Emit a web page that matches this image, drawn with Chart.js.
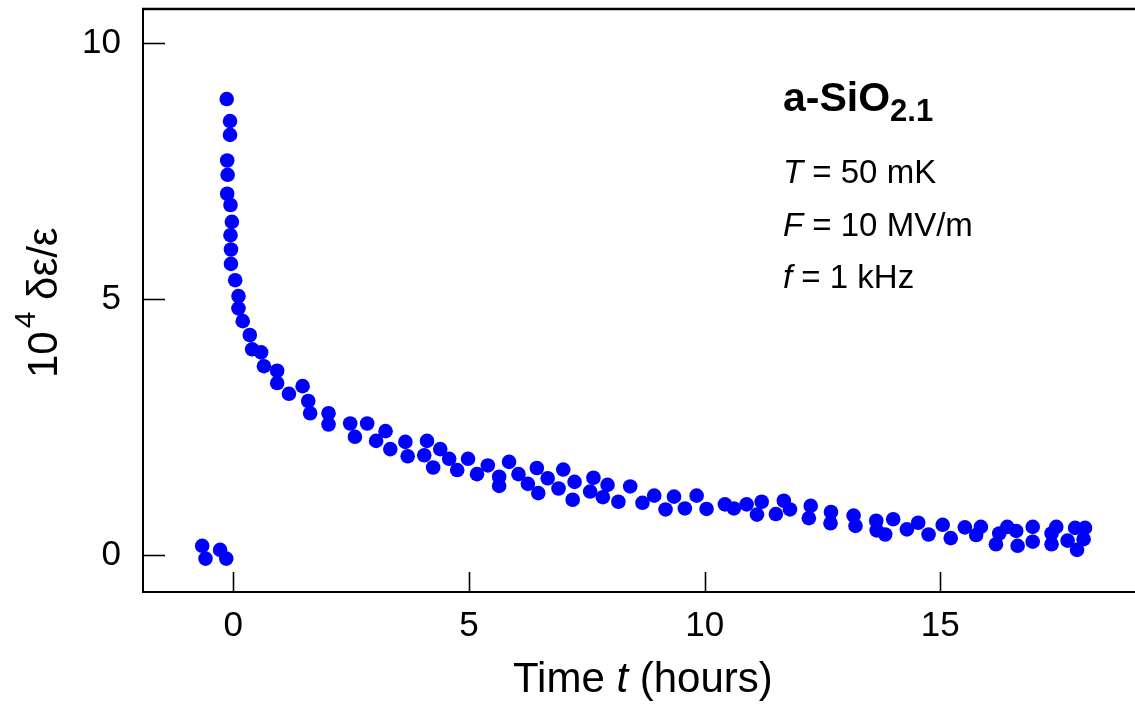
<!DOCTYPE html>
<html>
<head>
<meta charset="utf-8">
<script src="https://cdn.jsdelivr.net/npm/chart.js@4.4.1/dist/chart.umd.min.js"></script>
<style>
  html, body { margin: 0; padding: 0; background: #fff; }
  #wrap { width: 1135px; height: 704px; }
</style>
</head>
<body>
<div id="wrap"><canvas id="chart" width="1135" height="704"></canvas></div>
<script>
// relaxation of the dielectric constant after the bias field is switched on
const timeHours = [
  -0.66, -0.59, -0.28, -0.15,
  -0.14, -0.07, -0.07, -0.13, -0.12, -0.13, -0.06, -0.03, -0.06, -0.05, -0.05,
  0.04, 0.11, 0.11, 0.20, 0.35, 0.40, 0.59, 0.65, 0.93, 0.93, 1.18, 1.47, 1.59, 1.63,
  2.02, 2.02, 2.48, 2.58, 2.84, 3.03, 3.23, 3.33, 3.65, 3.70, 4.05, 4.11, 4.24, 4.39,
  4.58, 4.75, 4.98, 5.17, 5.40, 5.64, 5.64, 5.85, 6.05, 6.25, 6.44, 6.47, 6.67, 6.90,
  7.00, 7.20, 7.24, 7.57, 7.64, 7.84, 7.94, 8.17, 8.42, 8.68, 8.93, 9.17, 9.35, 9.58,
  9.83, 10.04, 10.43, 10.62, 10.89, 11.11, 11.21, 11.51, 11.68, 11.81, 12.21, 12.25,
  12.67, 12.68, 13.16, 13.20, 13.64, 13.65, 13.83, 14.00, 14.29, 14.53, 14.75, 15.05,
  15.22, 15.52, 15.76, 15.86, 16.18, 16.25, 16.42, 16.61, 16.64, 16.96, 16.96, 17.36,
  17.36, 17.46, 17.70, 17.86, 17.90, 18.04, 18.07
];
const deltaEps = [
  0.18, -0.07, 0.10, -0.07,
  8.91, 8.48, 8.21, 7.71, 7.43, 7.06, 6.84, 6.51, 6.25, 5.97, 5.69,
  5.37, 5.06, 4.82, 4.57, 4.30, 4.02, 3.96, 3.69, 3.60, 3.36, 3.15, 3.30, 3.01, 2.77,
  2.77, 2.55, 2.57, 2.31, 2.57, 2.23, 2.42, 2.07, 2.21, 1.93, 1.95, 2.23, 1.71, 2.07,
  1.88, 1.66, 1.88, 1.58, 1.75, 1.53, 1.35, 1.82, 1.58, 1.39, 1.70, 1.21, 1.50, 1.30,
  1.67, 1.08, 1.43, 1.24, 1.51, 1.13, 1.37, 1.04, 1.34, 1.02, 1.16, 0.89, 1.14, 0.91,
  1.16, 0.90, 0.99, 0.91, 0.99, 0.79, 1.04, 0.80, 1.06, 0.89, 0.72, 0.96,
  0.62, 0.84, 0.77, 0.57, 0.67, 0.48, 0.40, 0.70, 0.50, 0.63, 0.40, 0.59,
  0.33, 0.54, 0.39, 0.55, 0.21, 0.42, 0.55, 0.47, 0.18, 0.55, 0.26, 0.42,
  0.21, 0.55, 0.28, 0.53, 0.10, 0.31, 0.53
];
const xTicks = [0, 5, 10, 15];
const yTicks = [0, 5, 10];
const sampleName = 'a-SiO';
const sampleSub = '2.1';
const conditions = [
  ['T', ' = 50 mK'],
  ['F', ' = 10 MV/m'],
  ['f', ' = 1 kHz']
];

const FONT = "'Liberation Sans', Arial, Helvetica, sans-serif";

const points = timeHours.map((t, i) => ({ x: t, y: deltaEps[i] }));

// inward tick marks, top frame line and all the free text
const decorations = {
  id: 'decorations',
  afterDraw(chart) {
    const ctx = chart.ctx;
    const area = chart.chartArea;
    const xs = chart.scales.x;
    const ys = chart.scales.y;
    ctx.save();
    ctx.strokeStyle = '#000';
    ctx.lineWidth = 2.4;
    ctx.beginPath();
    ctx.moveTo(area.left - 1, area.top);
    ctx.lineTo(area.right, area.top);
    ctx.stroke();

    ctx.lineWidth = 1.6;
    xs.ticks.forEach(tk => {
      const px = Math.round(xs.getPixelForValue(tk.value)) + 0.5;
      ctx.beginPath();
      ctx.moveTo(px, area.bottom);
      ctx.lineTo(px, area.bottom - 20);
      ctx.stroke();
    });
    ys.ticks.forEach(tk => {
      const py = Math.round(ys.getPixelForValue(tk.value)) + 0.5;
      ctx.beginPath();
      ctx.moveTo(area.left, py);
      ctx.lineTo(area.left + 22, py);
      ctx.stroke();
    });

    ctx.fillStyle = '#000';
    ctx.textBaseline = 'alphabetic';
    ctx.textAlign = 'left';

    // x axis title
    let x = 513;
    const yb = 692;
    ctx.font = `42px ${FONT}`;
    ctx.fillText('Time ', x, yb);
    x += ctx.measureText('Time ').width;
    ctx.font = `italic 42px ${FONT}`;
    ctx.fillText('t', x, yb);
    x += ctx.measureText('t').width;
    ctx.font = `42px ${FONT}`;
    ctx.fillText(' (hours)', x, yb);

    // y axis title, rotated
    ctx.save();
    ctx.translate(57, 378);
    ctx.rotate(-Math.PI / 2);
    let u = 0;
    ctx.font = `42px ${FONT}`;
    ctx.fillText('10', u, 0);
    u += ctx.measureText('10').width + 3;
    ctx.font = `30px ${FONT}`;
    ctx.fillText('4', u, -22);
    u += ctx.measureText('4').width;
    ctx.font = `42px ${FONT}`;
    ctx.fillText(' \u03B4\u03B5/\u03B5', u, 0);
    ctx.restore();

    // sample label
    let sx = 783;
    ctx.font = `bold 41px ${FONT}`;
    ctx.fillText(sampleName, sx, 111);
    sx += ctx.measureText(sampleName).width;
    ctx.font = `bold 31px ${FONT}`;
    ctx.fillText(sampleSub, sx, 121);

    // measurement conditions
    conditions.forEach((c, i) => {
      const by = 183 + i * 52.5;
      let cx = 783;
      ctx.font = `italic 33px ${FONT}`;
      ctx.fillText(c[0], cx, by);
      cx += ctx.measureText(c[0]).width;
      ctx.font = `33px ${FONT}`;
      ctx.fillText(c[1], cx, by);
    });
    ctx.restore();
  }
};

new Chart(document.getElementById('chart'), {
  type: 'scatter',
  data: {
    datasets: [{
      data: points,
      backgroundColor: '#0000ff',
      borderWidth: 0,
      pointRadius: 7.3,
      pointHoverRadius: 7.3
    }]
  },
  options: {
    responsive: false,
    animation: false,
    devicePixelRatio: 1,
    layout: { autoPadding: false, padding: { top: 9, right: 0, left: 0, bottom: 0 } },
    plugins: {
      legend: { display: false },
      tooltip: { enabled: false }
    },
    scales: {
      x: {
        type: 'linear',
        min: -1.916,
        max: 19.13,
        afterBuildTicks: s => { s.ticks = xTicks.map(v => ({ value: v })); },
        afterFit: s => { s.height = 112; s.paddingLeft = 0; s.paddingRight = 0; },
        grid: { display: false, drawTicks: false },
        border: { display: true, color: '#000', width: 2 },
        ticks: {
          color: '#000',
          padding: 13,
          maxRotation: 0,
          font: { family: FONT, size: 35 }
        }
      },
      y: {
        type: 'linear',
        min: -0.723,
        max: 10.67,
        afterBuildTicks: s => { s.ticks = yTicks.map(v => ({ value: v })); },
        afterFit: s => { s.width = 143; s.paddingTop = 0; s.paddingBottom = 0; },
        grid: { display: false, drawTicks: false },
        border: { display: true, color: '#000', width: 2 },
        ticks: {
          color: '#000',
          padding: 22,
          font: { family: FONT, size: 35 }
        }
      }
    }
  },
  plugins: [decorations]
});
</script>
</body>
</html>
